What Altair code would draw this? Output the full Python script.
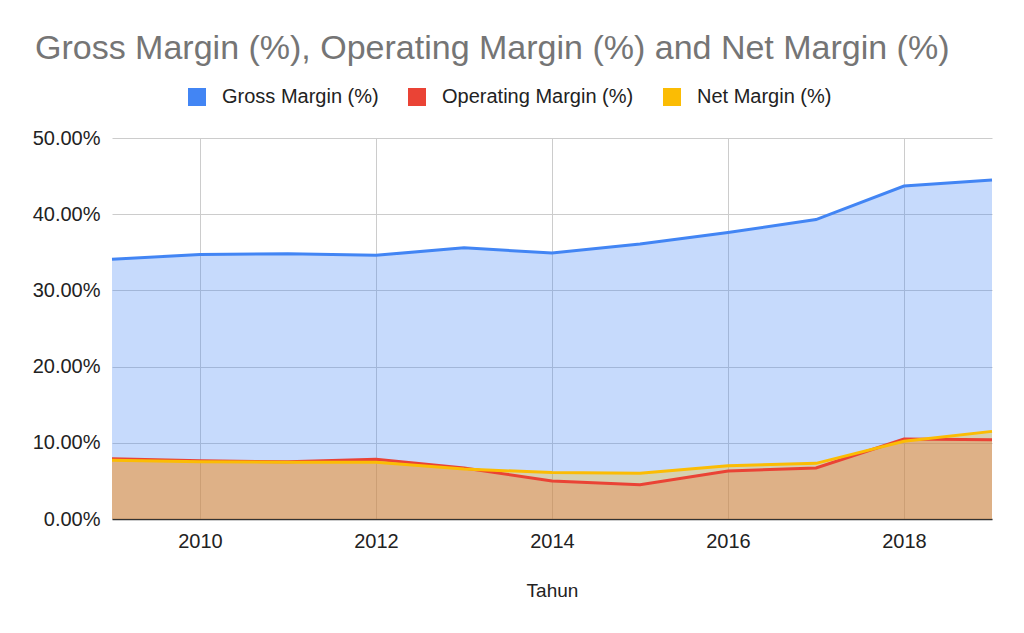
import altair as alt
import pandas as pd

years = [2009, 2010, 2011, 2012, 2013, 2014, 2015, 2016, 2017, 2018, 2019]
gross = [34.1, 34.7, 34.8, 34.6, 35.6, 34.9, 36.1, 37.6, 39.3, 43.7, 44.5]
operating = [7.9, 7.65, 7.5, 7.85, 6.7, 5.0, 4.5, 6.3, 6.7, 10.5, 10.4]
net = [7.7, 7.5, 7.45, 7.45, 6.55, 6.1, 6.0, 7.0, 7.3, 10.2, 11.5]

series_names = ["Gross Margin (%)", "Operating Margin (%)", "Net Margin (%)"]
series_colors = ["#4285F4", "#EA4335", "#FBBC04"]

rows = []
for name, vals in zip(series_names, [gross, operating, net]):
    for y, v in zip(years, vals):
        rows.append({"Tahun": y, "value": v / 100.0, "series": name})
df = pd.DataFrame(rows)

FONT = "Liberation Sans"

x_enc = alt.X(
    "Tahun:Q",
    scale=alt.Scale(domain=[2009, 2019], nice=False, zero=False),
    axis=alt.Axis(
        values=[2010, 2012, 2014, 2016, 2018],
        format="d",
        title="Tahun",
        grid=True,
        gridColor="#cccccc",
        ticks=False,
        domainColor="#333333",
        domainWidth=1.5,
        labelFontSize=20,
        labelColor="#222222",
        labelPadding=12,
        labelFont=FONT,
        titleFont=FONT,
        titleFontSize=19,
        titleFontWeight="normal",
        titleColor="#222222",
        titlePadding=30,
    ),
)
y_enc = alt.Y(
    "value:Q",
    stack=None,
    scale=alt.Scale(domain=[0, 0.5], nice=False),
    axis=alt.Axis(
        values=[0, 0.1, 0.2, 0.3, 0.4, 0.5],
        format=".2%",
        title=None,
        grid=True,
        gridColor="#cccccc",
        ticks=False,
        domain=False,
        labelFontSize=20,
        labelColor="#222222",
        labelPadding=12,
        labelFont=FONT,
    ),
)
color_enc = alt.Color(
    "series:N",
    scale=alt.Scale(domain=series_names, range=series_colors),
    sort=series_names,
    legend=alt.Legend(
        title=None,
        orient="none",
        legendX=75,
        legendY=-51,
        direction="horizontal",
        columns=3,
        columnPadding=28,
        labelOffset=15,
        labelFontSize=20,
        labelFont=FONT,
        labelColor="#222222",
        labelLimit=0,
        symbolType="square",
        symbolSize=324,
        symbolOpacity=1,
        symbolStrokeWidth=0,
        padding=0,
    ),
)

base = alt.Chart(df)
areas = base.mark_area(fillOpacity=0.3).encode(x=x_enc, y=y_enc, color=color_enc)
lines = base.mark_line(strokeWidth=3).encode(
    x=x_enc, y=y_enc, color=alt.Color("series:N", scale=alt.Scale(domain=series_names, range=series_colors), legend=None)
)

chart = (
    alt.layer(areas, lines)
    .properties(
        width=880,
        height=381,
        autosize=alt.AutoSizeParams(type="none"),
        padding={"left": 104, "top": 130, "right": 24, "bottom": 100},
        title=alt.TitleParams(
            "Gross Margin (%), Operating Margin (%) and Net Margin (%)",
            anchor="start",
            frame="group",
            dx=-77,
            dy=-17,
            fontSize=34,
            font=FONT,
            fontWeight="normal",
            color="#757575",
        ),
    )
    .configure_view(stroke=None)
)

chart.save("out.html", embed_options={"renderer": "svg", "actions": False})
